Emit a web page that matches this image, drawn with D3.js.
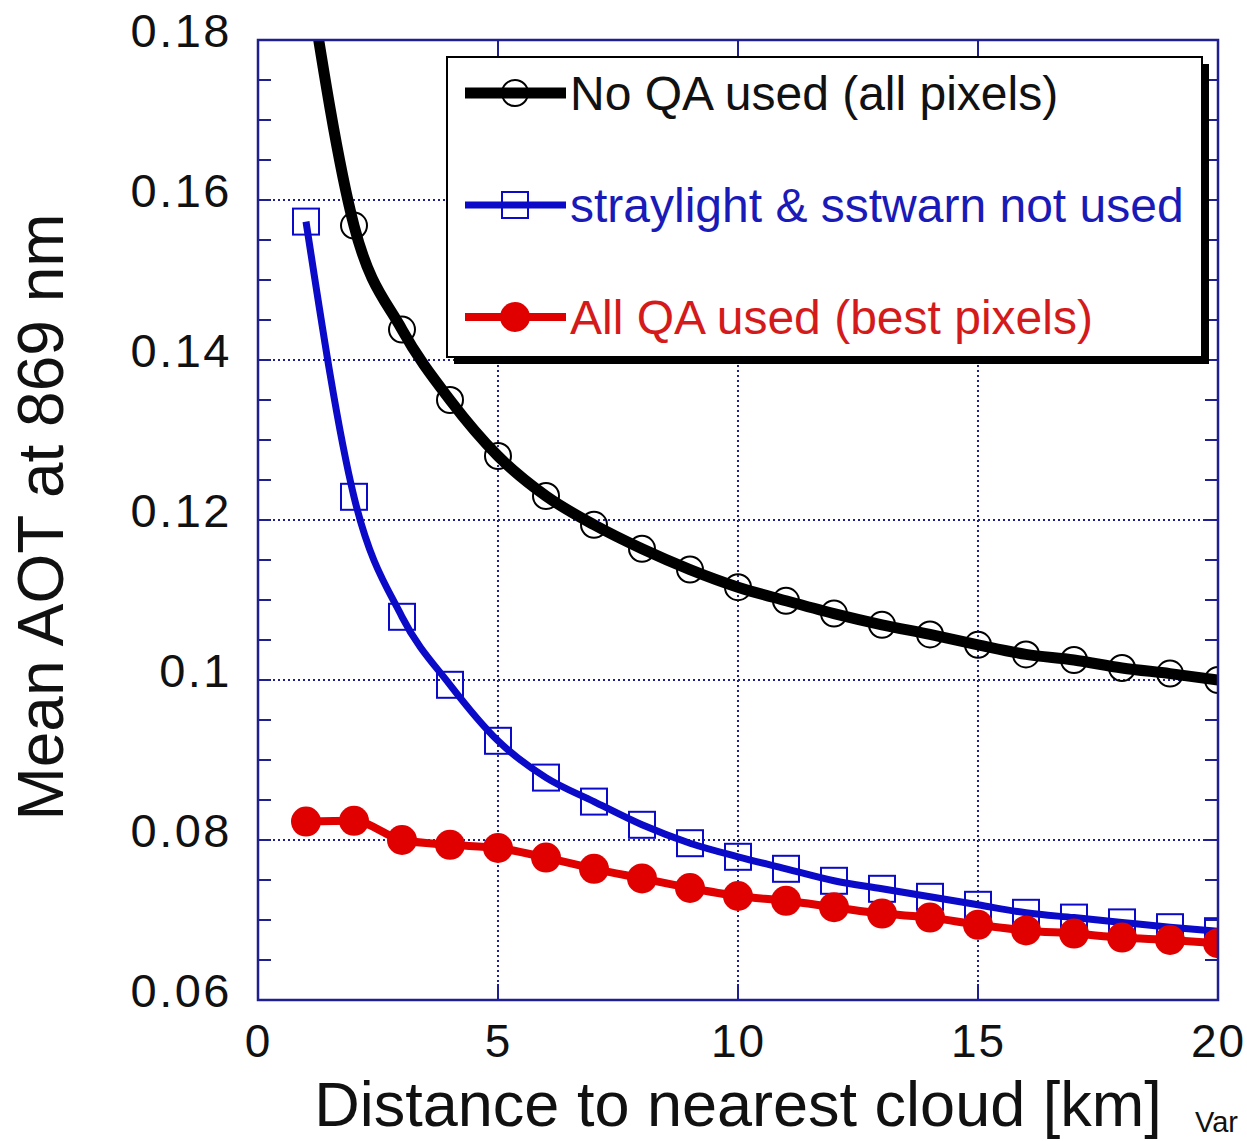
<!DOCTYPE html>
<html>
<head>
<meta charset="utf-8">
<script src="https://cdn.jsdelivr.net/npm/d3@7/dist/d3.min.js"></script>
<style>
  html, body { margin: 0; padding: 0; background: #fff; }
  svg { display: block; }
  text { font-family: "Liberation Sans", Arial, Helvetica, sans-serif; }
</style>
</head>
<body>
<svg id="chart" width="1247" height="1141"></svg>
<script>
// Distance to nearest cloud (km)
const distances = [1, 2, 3, 4, 5, 6, 7, 8, 9, 10, 11, 12, 13, 14, 15, 16, 17, 18, 19, 20];

// Mean AOT at 869 nm for each QA selection
const noQA = [0.190, 0.1568, 0.1438, 0.1350, 0.1280, 0.1230, 0.1194, 0.1164, 0.1138, 0.1116,
              0.1099, 0.1083, 0.1069, 0.1057, 0.1044, 0.1032, 0.1025, 0.1015, 0.1008, 0.1000];
const straylightOff = [0.1573, 0.1229, 0.1079, 0.0994, 0.0924, 0.0878, 0.0848, 0.0819, 0.0796, 0.0779,
                       0.0764, 0.0749, 0.0739, 0.0729, 0.0719, 0.0709, 0.0703, 0.0697, 0.0691, 0.0686];
const allQA = [0.0823, 0.0824, 0.0800, 0.0794, 0.0790, 0.0778, 0.0764, 0.0752, 0.0740, 0.0730,
               0.0724, 0.0716, 0.0708, 0.0703, 0.0694, 0.0687, 0.0683, 0.0678, 0.0675, 0.0671];

const seriesNames = ["No QA used (all pixels)", "straylight & sstwarn not used", "All QA used (best pixels)"];

const xTicks = [0, 5, 10, 15, 20];
const yTicks = [0.06, 0.08, 0.1, 0.12, 0.14, 0.16, 0.18];
const yTickLabels = ["0.06", "0.08", "0.1", "0.12", "0.14", "0.16", "0.18"];
const yMinorTicks = d3.range(0.065, 0.18, 0.005);

const svg = d3.select("#chart");
const plotLeft = 258, plotRight = 1218, plotTop = 40, plotBottom = 1000;

const x = d3.scaleLinear().domain([0, 20]).range([plotLeft, plotRight]);
const y = d3.scaleLinear().domain([0.06, 0.18]).range([plotBottom, plotTop]);

const frameColor = "#1f1f8f";

// dotted grid at major ticks
const grid = svg.append("g");
grid.selectAll("line.gx").data(xTicks.slice(1, -1)).join("line")
  .attr("x1", d => x(d)).attr("x2", d => x(d))
  .attr("y1", plotTop).attr("y2", plotBottom)
  .attr("stroke", frameColor).attr("stroke-width", 2).attr("stroke-dasharray", "2,3");
grid.selectAll("line.gy").data(yTicks.slice(1, -1)).join("line")
  .attr("x1", plotLeft).attr("x2", plotRight)
  .attr("y1", d => y(d)).attr("y2", d => y(d))
  .attr("stroke", frameColor).attr("stroke-width", 2).attr("stroke-dasharray", "2,3");

// inward ticks on all four sides
const tickG = svg.append("g").attr("stroke", frameColor).attr("stroke-width", 2);
tickG.selectAll("line.yl").data(yMinorTicks).join("line")
  .attr("x1", plotLeft).attr("x2", plotLeft + 13).attr("y1", d => y(d)).attr("y2", d => y(d));
tickG.selectAll("line.yr").data(yMinorTicks).join("line")
  .attr("x1", plotRight).attr("x2", plotRight - 13).attr("y1", d => y(d)).attr("y2", d => y(d));
tickG.selectAll("line.xb").data(xTicks.slice(1, -1)).join("line")
  .attr("x1", d => x(d)).attr("x2", d => x(d)).attr("y1", plotBottom).attr("y2", plotBottom - 16);
tickG.selectAll("line.xt").data(xTicks.slice(1, -1)).join("line")
  .attr("x1", d => x(d)).attr("x2", d => x(d)).attr("y1", plotTop).attr("y2", plotTop + 16);

// axes (labels only; frame drawn separately)
const yAxis = d3.axisLeft(y).tickValues(yTicks).tickSize(0).tickPadding(26)
  .tickFormat((d, i) => yTickLabels[i]);
const gy = svg.append("g").attr("transform", `translate(${plotLeft},0)`).call(yAxis);
gy.select(".domain").remove();
gy.selectAll("text").attr("font-size", 47).attr("fill", "#111")
  .attr("letter-spacing", 2.5)
  .attr("font-family", "'Liberation Sans', Arial, sans-serif")
  .attr("dy", "0.14em");

const xAxis = d3.axisBottom(x).tickValues(xTicks).tickSize(0).tickPadding(24);
const gx = svg.append("g").attr("transform", `translate(0,${plotBottom})`).call(xAxis);
gx.select(".domain").remove();
gx.selectAll("text").attr("font-size", 46).attr("fill", "#111")
  .attr("letter-spacing", 2)
  .attr("font-family", "'Liberation Sans', Arial, sans-serif");

// clip region for data
svg.append("clipPath").attr("id", "plotClip")
  .append("rect").attr("x", plotLeft).attr("y", plotTop)
  .attr("width", plotRight - plotLeft).attr("height", plotBottom - plotTop);

const plot = svg.append("g").attr("clip-path", "url(#plotClip)");

const lineGen = vals => d3.line()
  .x((d, i) => x(distances[i]))
  .y(d => y(d))
  .curve(d3.curveMonotoneX)(vals);

const colBlack = "#000000", colBlue = "#0a0ac8", colRed = "#e00000";

// lines
plot.append("path").attr("d", lineGen(allQA)).attr("fill", "none")
  .attr("stroke", colRed).attr("stroke-width", 8);
plot.append("path").attr("d", lineGen(straylightOff)).attr("fill", "none")
  .attr("stroke", colBlue).attr("stroke-width", 7);
plot.append("path").attr("d", lineGen(noQA)).attr("fill", "none")
  .attr("stroke", colBlack).attr("stroke-width", 11);

// markers
plot.selectAll("circle.noqa").data(noQA).join("circle")
  .attr("cx", (d, i) => x(distances[i])).attr("cy", d => y(d)).attr("r", 13)
  .attr("fill", "none").attr("stroke", colBlack).attr("stroke-width", 2);
plot.selectAll("rect.stray").data(straylightOff).join("rect")
  .attr("x", (d, i) => x(distances[i]) - 13).attr("y", d => y(d) - 13)
  .attr("width", 26).attr("height", 26)
  .attr("fill", "none").attr("stroke", colBlue).attr("stroke-width", 2);
plot.selectAll("circle.allqa").data(allQA).join("circle")
  .attr("cx", (d, i) => x(distances[i])).attr("cy", d => y(d)).attr("r", 15)
  .attr("fill", colRed);

// frame
svg.append("rect").attr("x", plotLeft).attr("y", plotTop)
  .attr("width", plotRight - plotLeft).attr("height", plotBottom - plotTop)
  .attr("fill", "none").attr("stroke", frameColor).attr("stroke-width", 2.5);

// legend
const lg = svg.append("g");
const lx = 447, ly = 57, lw = 755, lh = 300;
lg.append("rect").attr("x", lx + 7).attr("y", ly + 7).attr("width", lw).attr("height", lh).attr("fill", "#000");
lg.append("rect").attr("x", lx).attr("y", ly).attr("width", lw).attr("height", lh)
  .attr("fill", "#fff").attr("stroke", "#000").attr("stroke-width", 2);

const legendRows = [
  { name: seriesNames[0], color: colBlack, text: "#111", cy: 93, width: 11, marker: "circle" },
  { name: seriesNames[1], color: colBlue, text: "#1a1ab8", cy: 205, width: 7, marker: "square" },
  { name: seriesNames[2], color: colRed, text: "#d41a1a", cy: 317, width: 8, marker: "dot" }
];
legendRows.forEach(r => {
  lg.append("line").attr("x1", 465).attr("x2", 566).attr("y1", r.cy).attr("y2", r.cy)
    .attr("stroke", r.color).attr("stroke-width", r.width);
  if (r.marker === "circle") {
    lg.append("circle").attr("cx", 515).attr("cy", r.cy).attr("r", 13)
      .attr("fill", "none").attr("stroke", r.color).attr("stroke-width", 2);
  } else if (r.marker === "square") {
    lg.append("rect").attr("x", 502).attr("y", r.cy - 13).attr("width", 26).attr("height", 26)
      .attr("fill", "none").attr("stroke", r.color).attr("stroke-width", 2);
  } else {
    lg.append("circle").attr("cx", 515).attr("cy", r.cy).attr("r", 15).attr("fill", r.color);
  }
  lg.append("text").attr("x", 570).attr("y", r.cy + 17)
    .attr("font-size", 48).attr("fill", r.text).text(r.name);
});

// axis titles
svg.append("text").attr("x", 738).attr("y", 1126).attr("text-anchor", "middle")
  .attr("font-size", 63).attr("fill", "#111").text("Distance to nearest cloud [km]");
svg.append("text").attr("transform", "translate(63,517) rotate(-90)").attr("text-anchor", "middle")
  .attr("font-size", 64).attr("fill", "#111").text("Mean AOT at 869 nm");

// corner note
svg.append("text").attr("x", 1195).attr("y", 1132)
  .attr("font-family", "'DejaVu Sans', sans-serif").attr("font-size", 29).attr("fill", "#111").text("Var");
</script>
</body>
</html>
